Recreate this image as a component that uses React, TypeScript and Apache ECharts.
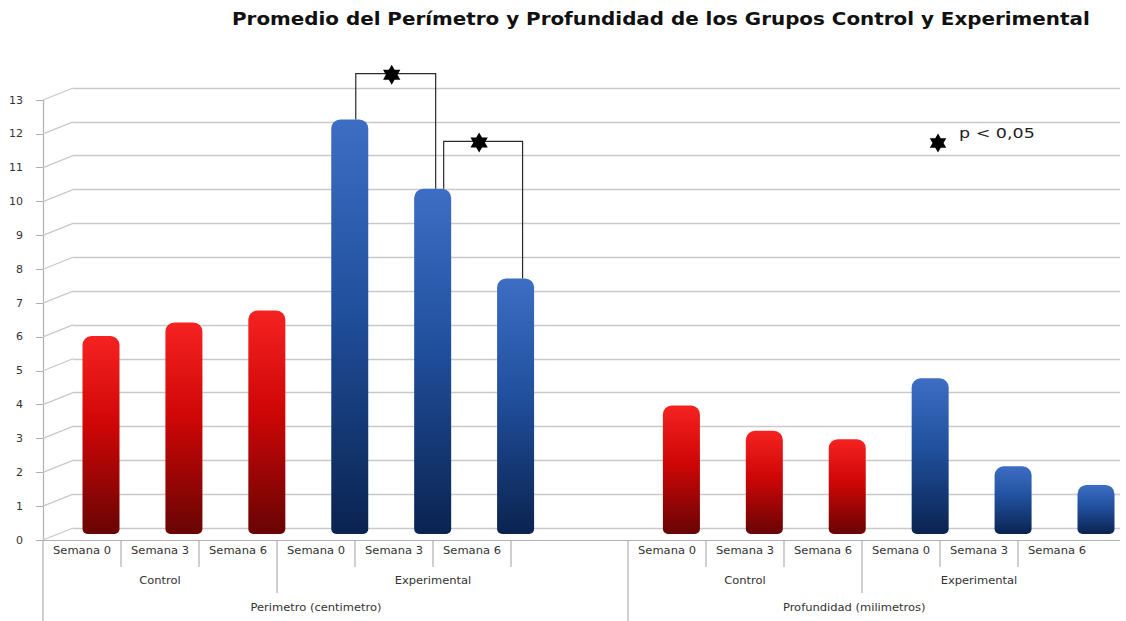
import React, { useEffect, useRef } from "react";
import * as echarts from "echarts";

// ---------- data ----------
const TITLE = "Promedio del Perímetro y Profundidad de los Grupos Control y Experimental";
const yTickLabels = ["0", "1", "2", "3", "4", "5", "6", "7", "8", "9", "10", "11", "12", "13"];
const weeks = ["Semana 0", "Semana 3", "Semana 6"];
const groups = ["Control", "Experimental"];
const measures = ["Perimetro (centimetro)", "Profundidad (milimetros)"];
const perimControl = [5.85, 6.25, 6.6];
const perimExperimental = [12.25, 10.2, 7.55];
const profControl = [3.8, 3.05, 2.8];
const profExperimental = [4.6, 2.0, 1.45];
// significance brackets between experimental perimeter weeks (slot indices)
const sigPairs = [
  [3, 4],
  [4, 5],
];
const sigLevels = [13.6, 11.6];
const legendText = "p < 0,05";

// ---------- layout constants ----------
const FONT = "DejaVu Sans";
const UNIT = 39; // px per label unit on the front floor
const FRONT_UNITS = 27.6;
const MEASURE_SPAN = 15;
const GROUP_SPAN = 6;
const WEEK_SPAN = 2;
const GROUP_CENTERS = [
  [3, 10],
  [3, 9],
];
const MEASURE_CENTERS = [7, 5.8];
const ROW_Y = [11, 41, 68];
const ROW_DEPTH = [27, 53, 81];
const BRACKET_OFFSETS = [
  [6, 3],
  [11, 7],
];
const LABEL_SCALE_X = 1.15;

// slot data (13 slots, slot 6 empty)
const NA = "-";
const slotNames = [...weeks, ...weeks, "", ...weeks, ...weeks];
const controlData: any[] = [...perimControl, NA, NA, NA, NA, ...profControl, NA, NA, NA];
const experimentalData: any[] = [NA, NA, NA, ...perimExperimental, NA, NA, NA, NA, ...profExperimental];
const slotValue = (i: number) => {
  const c = controlData[i];
  const e = experimentalData[i];
  return typeof c === "number" ? c : typeof e === "number" ? e : 0;
};

// label items
type LabelItem = { x: number; row: number; text: string };
const labelItems: LabelItem[] = [];
const separators: [number, number][] = [];
measures.forEach((m, mi) => {
  const base = mi * MEASURE_SPAN;
  separators.push([base, 2]);
  groups.forEach((g, gi) => {
    const gBase = base + gi * GROUP_SPAN;
    if (gi > 0) separators.push([gBase, 1]);
    weeks.forEach((w, wi) => {
      labelItems.push({ x: gBase + wi * WEEK_SPAN + WEEK_SPAN / 2, row: 0, text: w });
      const end = gBase + (wi + 1) * WEEK_SPAN;
      const isGroupEnd = wi === weeks.length - 1 && gi < groups.length - 1;
      const isLast = wi === weeks.length - 1 && gi === groups.length - 1 && mi === measures.length - 1;
      if (!isGroupEnd && !isLast) separators.push([end, 0]);
    });
    labelItems.push({ x: base + GROUP_CENTERS[mi][gi], row: 1, text: g });
  });
  labelItems.push({ x: base + MEASURE_CENTERS[mi], row: 2, text: m });
});

function hexagram(cx: number, cy: number, R: number): number[][] {
  const pts: number[][] = [];
  const r = R / Math.sqrt(3);
  for (let k = 0; k < 12; k++) {
    const ang = ((-90 + k * 30) * Math.PI) / 180;
    const rad = k % 2 === 0 ? R : r;
    pts.push([cx + rad * Math.cos(ang), cy + rad * Math.sin(ang)]);
  }
  return pts;
}

const redGrad = new echarts.graphic.LinearGradient(0, 0, 0, 1, [
  { offset: 0, color: "#f62222" },
  { offset: 0.45, color: "#cf0606" },
  { offset: 1, color: "#680404" },
]);
const blueGrad = new echarts.graphic.LinearGradient(0, 0, 0, 1, [
  { offset: 0, color: "#3d6ec4" },
  { offset: 0.45, color: "#21509e" },
  { offset: 1, color: "#0a2350" },
]);

const gridColor = "#c9c9c9";
const axisColor = "#b0b0b0";

const option: any = {
  animation: false,
  backgroundColor: "#ffffff",
  graphic: [
    {
      type: "text",
      x: 232,
      y: 19,
      scaleX: 1.17,
      style: {
        text: TITLE,
        fontFamily: FONT,
        fontSize: 17,
        fontWeight: "bold",
        fill: "#111",
        verticalAlign: "middle",
      },
    },
    {
      type: "polygon",
      shape: { points: hexagram(938, 143, 9.5) },
      style: { fill: "#000" },
    },
    {
      type: "text",
      x: 959,
      y: 133,
      scaleX: 1.25,
      style: { text: legendText, fontFamily: FONT, fontSize: 14, fill: "#222", verticalAlign: "middle" },
    },
  ],
  grid: [
    { left: 43, top: 100, width: UNIT * FRONT_UNITS, height: 440 },
    { left: 73, top: 88, right: 6, height: 440 },
    { left: 101, top: 94, width: 995, height: 440 },
  ],
  xAxis: [
    {
      gridIndex: 0,
      type: "value",
      min: 0,
      max: FRONT_UNITS,
      axisLine: { show: true, onZero: false, lineStyle: { color: axisColor, width: 1.2 } },
      axisTick: { show: false },
      axisLabel: { show: false },
      splitLine: { show: false },
    },
    { gridIndex: 1, type: "value", min: 0, max: 1, show: false },
    { gridIndex: 2, type: "category", data: slotNames, boundaryGap: false, show: false },
  ],
  yAxis: [
    {
      gridIndex: 0,
      type: "value",
      min: 0,
      max: 13,
      interval: 1,
      axisLine: { show: true, lineStyle: { color: axisColor, width: 1.2 } },
      axisTick: { show: true, length: 7, lineStyle: { color: axisColor } },
      axisLabel: {
        color: "#333",
        fontSize: 11,
        fontFamily: FONT,
        margin: 20,
        formatter: (v: number) => yTickLabels[v] ?? "",
      },
      splitLine: { show: false },
    },
    {
      gridIndex: 1,
      type: "value",
      min: 0,
      max: 13,
      interval: 1,
      axisLine: { show: false },
      axisTick: { show: false },
      axisLabel: { show: false },
      splitLine: { show: true, lineStyle: { color: gridColor, width: 1.3 } },
    },
    { gridIndex: 2, type: "value", min: 0, max: 13, show: false },
  ],
  series: [
    {
      type: "custom",
      name: "diagonals",
      xAxisIndex: 0,
      yAxisIndex: 0,
      silent: true,
      z: 1,
      data: yTickLabels.map((_, i) => [0, i]),
      renderItem: (_p: any, api: any) => {
        const p = api.coord([0, api.value(1)]);
        return {
          type: "line",
          shape: { x1: p[0], y1: p[1], x2: p[0] + 30, y2: p[1] - 12 },
          style: { stroke: gridColor, lineWidth: 1.3 },
        };
      },
    },
    {
      type: "bar",
      name: "Control",
      xAxisIndex: 2,
      yAxisIndex: 2,
      data: controlData,
      barWidth: 37,
      barGap: "-100%",
      z: 3,
      itemStyle: { color: redGrad, borderRadius: [9, 9, 5, 5] },
    },
    {
      type: "bar",
      name: "Experimental",
      xAxisIndex: 2,
      yAxisIndex: 2,
      data: experimentalData,
      barWidth: 37,
      barGap: "-100%",
      z: 3,
      itemStyle: { color: blueGrad, borderRadius: [9, 9, 5, 5] },
    },
    {
      type: "custom",
      name: "brackets",
      xAxisIndex: 2,
      yAxisIndex: 2,
      silent: true,
      z: 4,
      data: sigPairs.map((pr, i) => [pr[0], pr[1], sigLevels[i]]),
      renderItem: (params: any, api: any) => {
        const i = params.dataIndex;
        const from = api.value(0);
        const to = api.value(1);
        const lvl = api.value(2);
        const a = api.coord([from, slotValue(from)]);
        const b = api.coord([to, slotValue(to)]);
        const top = api.coord([from, lvl])[1];
        const x1 = a[0] + BRACKET_OFFSETS[i][0];
        const x2 = b[0] + BRACKET_OFFSETS[i][1];
        return {
          type: "group",
          children: [
            {
              type: "polyline",
              shape: { points: [[x1, a[1]], [x1, top], [x2, top], [x2, b[1]]] },
              style: { stroke: "#2a2a2a", lineWidth: 1.2, fill: "none" },
            },
            {
              type: "polygon",
              shape: { points: hexagram((x1 + x2) / 2 - 4, top + 1, 10) },
              style: { fill: "#000" },
            },
          ],
        };
      },
    },
    {
      type: "custom",
      name: "separators",
      xAxisIndex: 0,
      yAxisIndex: 0,
      silent: true,
      data: separators.map((s) => [s[0], s[1]]),
      renderItem: (_p: any, api: any) => {
        const p = api.coord([api.value(0), 0]);
        return {
          type: "line",
          shape: { x1: p[0], y1: p[1], x2: p[0], y2: p[1] + ROW_DEPTH[api.value(1)] },
          style: { stroke: axisColor, lineWidth: 1.2 },
        };
      },
    },
    {
      type: "custom",
      name: "labels",
      xAxisIndex: 0,
      yAxisIndex: 0,
      silent: true,
      data: labelItems.map((d) => [d.x, d.row]),
      renderItem: (params: any, api: any) => {
        const item = labelItems[params.dataIndex];
        const p = api.coord([api.value(0), 0]);
        return {
          type: "text",
          x: p[0],
          y: p[1] + ROW_Y[item.row],
          scaleX: LABEL_SCALE_X,
          style: {
            text: item.text,
            fontFamily: FONT,
            fontSize: 10,
            fill: "#333",
            align: "center",
            verticalAlign: "middle",
          },
        };
      },
    },
  ],
};

export default function App() {
  const ref = useRef<HTMLDivElement>(null);
  useEffect(() => {
    const chart = echarts.init(ref.current!, null, { renderer: "svg" });
    chart.setOption(option);
    return () => chart.dispose();
  }, []);
  return (
    <div
      ref={ref}
      style={{ position: "fixed", left: 0, top: 0, width: 1126, height: 621, background: "#fff" }}
    />
  );
}
